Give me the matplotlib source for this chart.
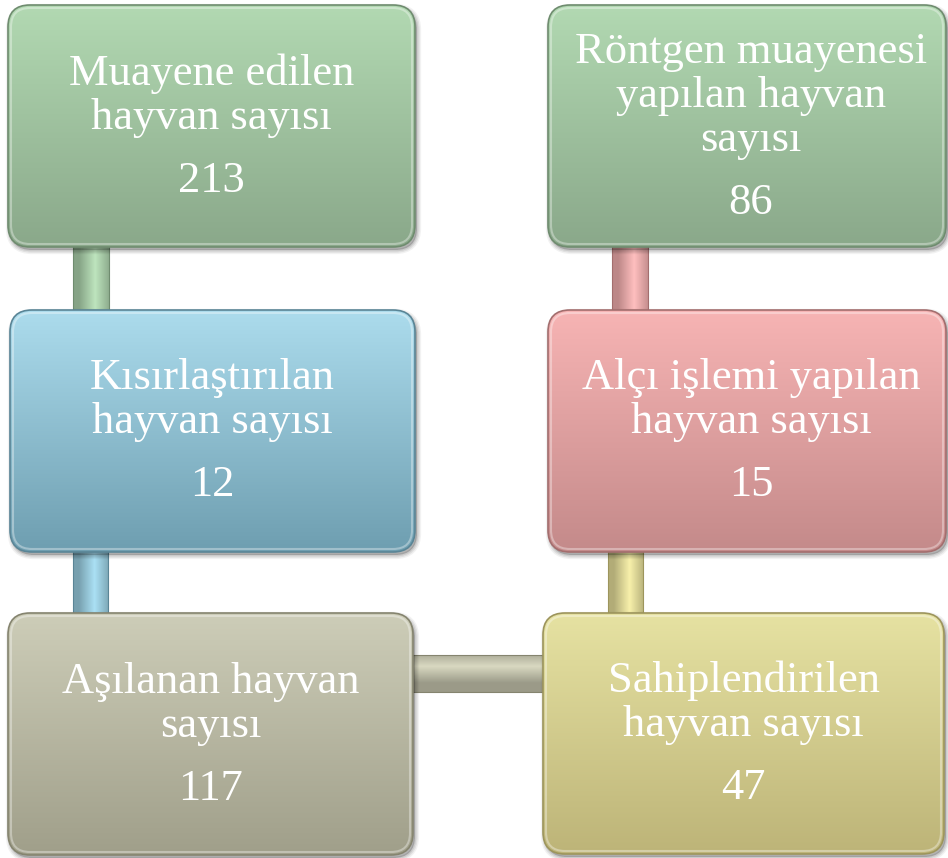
import numpy as np
import matplotlib
matplotlib.use("Agg")
import matplotlib.pyplot as plt
from matplotlib.patches import FancyBboxPatch, Rectangle
from matplotlib.colors import to_rgb

labels = [
    "Muayene edilen\nhayvan sayısı",
    "Röntgen muayenesi\nyapılan hayvan\nsayısı",
    "Kısırlaştırılan\nhayvan sayısı",
    "Alçı işlemi yapılan\nhayvan sayısı",
    "Aşılanan hayvan\nsayısı",
    "Sahiplendirilen\nhayvan sayısı",
]
values = [213, 86, 12, 15, 117, 47]

# box geometry (x0, y0, width, height) in pixels, y down
boxes = [(8, 5, 407, 242), (548, 5, 398, 242),
         (10, 310, 405, 242), (548, 310, 398, 242),
         (8, 613, 405, 242), (543, 613, 401, 241)]
tops = ["#b2d9b2", "#b2d9b2", "#acdced", "#f7b4b4", "#cdcdb8", "#e6e2a2"]
bottoms = ["#8aa88a", "#8aa88a", "#6e9eb0", "#c48a8a", "#a09f8a", "#bdb478"]
edges = ["#6f8c6f", "#6f8c6f", "#5a8596", "#a36e6e", "#85846f", "#9d955c"]

# connectors (x0, y0, w, h, colour index)
links = [(73, 240, 36, 78, 0), (73, 545, 35, 75, 2), (408, 655, 142, 37, 4),
         (608, 545, 35, 75, 5), (612, 240, 36, 78, 3)]

fig = plt.figure(figsize=(9.48, 8.58), dpi=100)
ax = fig.add_axes([0, 0, 1, 1])
ax.set_xlim(0, 948)
ax.set_ylim(858, 0)
ax.axis("off")


def grad(c1, c2, n=256):
    a, b = np.array(to_rgb(c1)), np.array(to_rgb(c2))
    t = np.linspace(0, 1, n)[:, None]
    return a * (1 - t) + b * t


for x, y, w, h, ci in links:
    c = np.array(to_rgb(tops[ci])) * 0.5 + np.array(to_rgb(bottoms[ci])) * 0.5
    light = np.minimum(c * 1.12 + 0.05, 1)
    t = np.linspace(0, 1, 64)
    if w < h:
        prof = np.clip(1 - np.abs(t - 0.62) * 2.2, 0, 1)[None, :, None]
        img = np.repeat(c * 0.85 + (light - c * 0.85) * prof, 4, axis=0)
    else:
        prof = np.clip(1 - np.abs(t - 0.3) * 2.2, 0, 1)[:, None, None]
        img = np.repeat(c * 0.85 + (light - c * 0.85) * prof, 4, axis=1)
    ax.imshow(img, extent=(x, x + w, y + h, y), origin="upper",
              aspect="auto", zorder=1)
    ax.add_patch(Rectangle((x, y), w, h, fill=False, ec=edges[ci],
                           lw=0.8, zorder=1.1))

for i, (x, y, w, h) in enumerate(boxes):
    # soft shadow
    for k, a in [(6, 0.05), (4, 0.07), (2, 0.09)]:
        ax.add_patch(FancyBboxPatch((x + 2, y + 3), w, h,
                                    boxstyle="round,pad=0,rounding_size=22",
                                    fc="black", ec="black", lw=k, alpha=a,
                                    zorder=2))
    box = FancyBboxPatch((x, y), w, h, boxstyle="round,pad=0,rounding_size=22",
                         fc="none", ec=edges[i], lw=1.2, zorder=4)
    ax.add_patch(box)
    g = grad(tops[i], bottoms[i])[:, None, :]
    im = ax.imshow(g, extent=(x, x + w, y + h, y), origin="upper",
                   aspect="auto", zorder=3)
    im.set_clip_path(box)
    ax.add_patch(FancyBboxPatch((x + 3, y + 3), w - 6, h - 6,
                                boxstyle="round,pad=0,rounding_size=19",
                                fc="none", ec="white", lw=1.5, alpha=0.35,
                                zorder=3.5))

    lines = labels[i].split("\n")
    n = len(lines)
    span = (n - 1) * 44 + 63
    cx = x + w / 2 + (4 if i in (1, 3) else 0)
    y0 = y + h / 2 - span / 2 + 1
    for j, ln in enumerate(lines):
        ax.text(cx, y0 + j * 44, ln, ha="center", va="center", color="white",
                fontsize=32, family="Liberation Serif", zorder=5)
    ax.text(cx, y0 + (n - 1) * 44 + 63, str(values[i]), ha="center",
            va="center", color="white", fontsize=32,
            family="Liberation Serif", zorder=5)

ax.set_xlim(0, 948)
ax.set_ylim(858, 0)
fig.savefig("out.png", dpi=100)
